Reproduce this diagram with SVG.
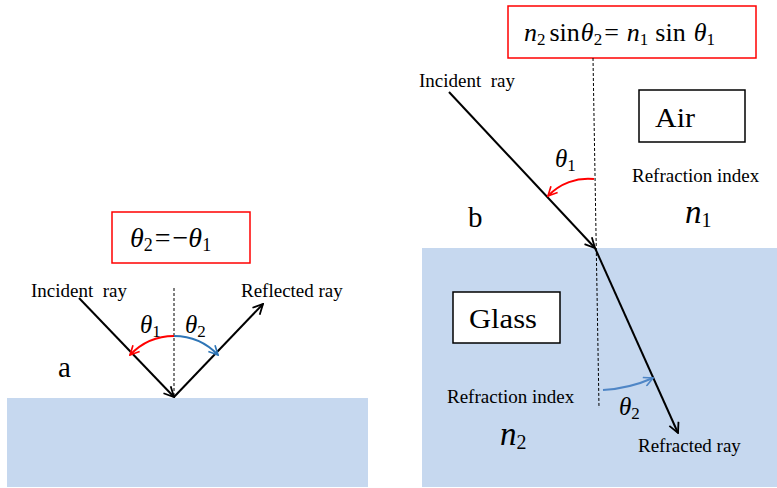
<svg xmlns="http://www.w3.org/2000/svg" width="777" height="488" viewBox="0 0 777 488">
<style>
text{font-family:"Liberation Serif","Times New Roman",serif;fill:#000}
.lbl{font-size:19px}
.it{font-style:italic}
.box{fill:#fff;stroke:#000;stroke-width:1.5}
.rbox{fill:#fff;stroke:#ff0000;stroke-width:1.5}
.ray{fill:none;stroke:#000;stroke-width:2}
.dash{fill:none;stroke:#000;stroke-width:1;stroke-dasharray:3,2}
.glass{fill:#c6d8ef}
</style>
<defs>
<marker id="ahk" viewBox="0 0 12 12" refX="11" refY="6" markerWidth="12" markerHeight="12" markerUnits="userSpaceOnUse" orient="auto">
<path d="M1,1 L11,6 L1,11" fill="none" stroke="#000" stroke-width="1.8"/>
</marker>
<marker id="ahr" viewBox="0 0 12 12" refX="11" refY="6" markerWidth="11" markerHeight="11" markerUnits="userSpaceOnUse" orient="auto">
<path d="M1,1 L11,6 L1,11" fill="none" stroke="#ff0000" stroke-width="1.8"/>
</marker>
<marker id="ahb" viewBox="0 0 12 12" refX="11" refY="6" markerWidth="11" markerHeight="11" markerUnits="userSpaceOnUse" orient="auto">
<path d="M1,1 L11,6 L1,11" fill="none" stroke="#2e75b6" stroke-width="1.8"/>
</marker>
<marker id="ahb2" viewBox="0 0 12 12" refX="11" refY="6" markerWidth="11" markerHeight="11" markerUnits="userSpaceOnUse" orient="auto">
<path d="M1,1 L11,6 L1,11" fill="none" stroke="#4f86c6" stroke-width="1.8"/>
</marker>
</defs>

<!-- Panel a -->
<g id="surface-a"><rect class="glass" x="7" y="398" width="361" height="89"/></g>
<g id="formula-a">
<rect class="rbox" x="112" y="212" width="138" height="51"/>
<text x="130" y="247" font-size="28"><tspan class="it">θ</tspan><tspan dy="4" font-size="18">2</tspan><tspan dx="2" dy="-4">=</tspan><tspan dx="2">−</tspan><tspan class="it">θ</tspan><tspan dy="4" font-size="18">1</tspan></text>
</g>
<g id="label-incident-a"><text class="lbl" x="31" y="297" xml:space="preserve">Incident  ray</text></g>
<g id="label-reflected-a"><text class="lbl" x="241" y="297">Reflected ray</text></g>
<g id="label-a"><text x="58" y="377" font-size="29">a</text></g>
<g id="theta1-a"><text x="140" y="333" font-size="25"><tspan class="it">θ</tspan><tspan dy="4" font-size="17">1</tspan></text></g>
<g id="theta2-a"><text x="185" y="333" font-size="25"><tspan class="it">θ</tspan><tspan dy="4" font-size="17">2</tspan></text></g>

<!-- Panel b -->
<g id="glass-b"><rect class="glass" x="422" y="248" width="355" height="239"/></g>
<g id="formula-b">
<rect class="rbox" x="508" y="6" width="248" height="52"/>
<text x="524" y="41" font-size="26"><tspan class="it">n</tspan><tspan dy="4" font-size="17">2</tspan><tspan dx="4" dy="-4">sin</tspan><tspan class="it" dx="1">θ</tspan><tspan dy="4" font-size="17">2</tspan><tspan dx="2" dy="-4">=</tspan><tspan class="it" dx="8">n</tspan><tspan dy="4" font-size="17">1</tspan><tspan dx="7" dy="-4">sin</tspan><tspan class="it" dx="8">θ</tspan><tspan dy="4" font-size="17">1</tspan></text>
</g>
<g id="label-incident-b"><text class="lbl" x="419" y="87" xml:space="preserve">Incident  ray</text></g>
<g id="air"><rect class="box" x="639" y="90" width="106" height="52"/><text x="655" y="127" font-size="28" textLength="40" lengthAdjust="spacingAndGlyphs">Air</text></g>
<g id="refraction-index-1"><text class="lbl" x="632" y="182">Refraction index</text></g>
<g id="n1"><text x="685" y="223" font-size="33"><tspan class="it">n</tspan><tspan dy="4" font-size="20">1</tspan></text></g>
<g id="label-b"><text x="468" y="227" font-size="29">b</text></g>
<g id="theta1-b"><text x="555" y="167" font-size="25"><tspan class="it">θ</tspan><tspan dy="4" font-size="17">1</tspan></text></g>
<g id="glass-label"><rect class="box" x="453" y="292" width="107" height="51"/><text x="469" y="328" font-size="28" textLength="68" lengthAdjust="spacingAndGlyphs">Glass</text></g>
<g id="refraction-index-2"><text class="lbl" x="447" y="403">Refraction index</text></g>
<g id="n2"><text x="500" y="445" font-size="33"><tspan class="it">n</tspan><tspan dy="4" font-size="20">2</tspan></text></g>
<g id="theta2-b"><text x="619" y="415" font-size="25"><tspan class="it">θ</tspan><tspan dy="4" font-size="17">2</tspan></text></g>
<g id="label-refracted"><text class="lbl" x="638" y="452">Refracted ray</text></g>

<g id="connectors">
<!-- panel a -->
<line class="dash" x1="174" y1="288" x2="174" y2="397"/>
<line class="ray" x1="79" y1="298" x2="174" y2="397" marker-end="url(#ahk)"/>
<line class="ray" x1="174" y1="397" x2="263" y2="304" marker-end="url(#ahk)"/>
<path d="M174,336 A61,61 0 0 0 130,355" fill="none" stroke="#ff0000" stroke-width="2" marker-end="url(#ahr)"/>
<path d="M174,336 A61,61 0 0 1 218,355" fill="none" stroke="#2e75b6" stroke-width="2" marker-end="url(#ahb)"/>
<!-- panel b -->
<line class="dash" x1="593" y1="58" x2="599" y2="408"/>
<line class="ray" x1="449" y1="92" x2="595" y2="248" marker-end="url(#ahk)"/>
<line class="ray" x1="595" y1="248" x2="678" y2="433" marker-end="url(#ahk)"/>
<path d="M594,179 A55,55 0 0 0 548,196" fill="none" stroke="#ff0000" stroke-width="2" marker-end="url(#ahr)"/>
<path d="M603,390 A142,142 0 0 0 653,378" fill="none" stroke="#4f86c6" stroke-width="2" marker-end="url(#ahb2)"/>
</g>
</svg>
